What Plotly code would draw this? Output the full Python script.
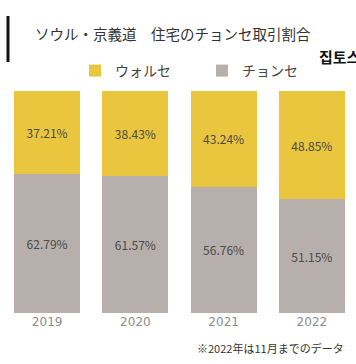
import plotly.graph_objects as go

years = ["2019", "2020", "2021", "2022"]
wolse = [37.21, 38.43, 43.24, 48.85]
jeonse = [62.79, 61.57, 56.76, 51.15]
series_names = ["ウォルセ", "チョンセ"]
title_text = "ソウル・京義道\u3000住宅のチョンセ取引割合"
footnote = "※2022年は11月までのデータ"
brand = "집토스"

YELLOW = "#E9C63E"
GRAY = "#B7AFAB"
FONT = "Noto Sans CJK JP"

fig = go.Figure()
fig.add_trace(go.Bar(
    x=years, y=jeonse, name=series_names[1], marker=dict(color=GRAY, line=dict(width=0)),
    text=[f"{v:.2f}%" for v in jeonse], textposition="inside", insidetextanchor="middle",
    textfont=dict(color="#4a4a4a", size=12, family=FONT), hoverinfo="skip",
))
fig.add_trace(go.Bar(
    x=years, y=wolse, name=series_names[0], marker=dict(color=YELLOW, line=dict(width=0)),
    text=[f"{v:.2f}%" for v in wolse], textposition="inside", insidetextanchor="middle",
    textfont=dict(color="#4a4a4a", size=12, family=FONT), hoverinfo="skip",
))

fig.update_layout(
    width=356, height=364,
    margin=dict(l=3, r=0, t=91, b=51, autoexpand=False),
    barmode="stack", bargap=0.25,
    paper_bgcolor="white", plot_bgcolor="white",
    font=dict(family=FONT, color="#333333"),
    showlegend=True,
    legend=dict(
        orientation="h", traceorder="reversed",
        x=(75 - 3) / 353, xanchor="left", y=1 - 71 / 364, yref="container", yanchor="middle",
        font=dict(size=14, color="#444444", family=FONT),
        entrywidth=82, entrywidthmode="pixels",
        itemwidth=30, bgcolor="rgba(0,0,0,0)",
    ),
    xaxis=dict(
        showgrid=False, zeroline=False, showline=False, ticks="", automargin=False,
        tickfont=dict(size=12, color="#8c8c8c", family="DejaVu Sans"),
    ),
    yaxis=dict(range=[0, 100], visible=False, showgrid=False, automargin=False),
    uniformtext=dict(minsize=10, mode="show"),
)

# title accent bar
fig.add_shape(type="line", xref="paper", yref="paper",
              x0=(8 - 3) / 353, x1=(8 - 3) / 353,
              y0=(313 - 16) / 222, y1=(313 - 62) / 222,
              line=dict(color="#111111", width=3))

fig.add_annotation(text=title_text, xref="paper", yref="paper",
                   x=(33 - 3) / 353, xanchor="left",
                   y=(313 - 34) / 222, yanchor="middle",
                   showarrow=False, font=dict(size=14.5, color="#333333", family=FONT))
fig.add_annotation(text=f"<b>{brand}</b>", xref="paper", yref="paper",
                   x=(317 - 3) / 353, xanchor="left",
                   y=(313 - 56) / 222, yanchor="middle",
                   showarrow=False, font=dict(size=15, color="#111111", family="Noto Sans CJK KR"))
fig.add_annotation(text=footnote, xref="paper", yref="paper",
                   x=(346 - 3) / 353, xanchor="right",
                   y=(313 - 348) / 222, yanchor="middle",
                   showarrow=False, font=dict(size=11, color="#333333", family=FONT))

fig.write_html("out.html", config={"displayModeBar": False},
               post_script="document.body.style.margin='0';document.body.style.overflow='hidden';")
